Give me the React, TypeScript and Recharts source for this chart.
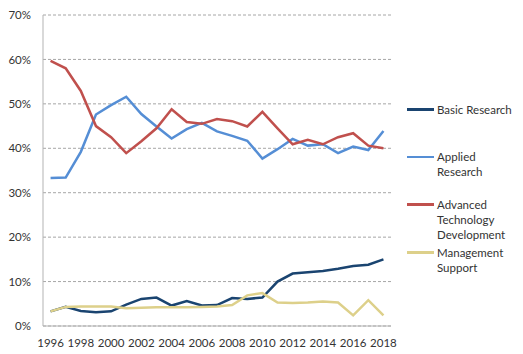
import React from "react";
import { LineChart, Line, XAxis, YAxis, CartesianGrid } from "recharts";

const years = [
  1996, 1997, 1998, 1999, 2000, 2001, 2002, 2003, 2004, 2005, 2006, 2007,
  2008, 2009, 2010, 2011, 2012, 2013, 2014, 2015, 2016, 2017, 2018,
];

const basicResearch = [
  3.3, 4.3, 3.4, 3.1, 3.3, 4.8, 6.1, 6.4, 4.6, 5.6, 4.6, 4.7, 6.3, 6.1, 6.4,
  10.0, 11.8, 12.1, 12.4, 12.9, 13.5, 13.8, 15.0,
];
const appliedResearch = [
  33.3, 33.4, 39.2, 47.6, 49.7, 51.6, 47.7, 44.9, 42.2, 44.3, 45.7, 43.8, 42.8,
  41.7, 37.7, 39.8, 42.1, 40.6, 40.9, 38.9, 40.4, 39.6, 43.9,
];
const advancedTech = [
  59.7, 58.0, 52.9, 45.0, 42.5, 38.9, 41.6, 44.5, 48.8, 45.9, 45.5, 46.6, 46.1,
  44.9, 48.2, 44.5, 40.9, 41.9, 40.9, 42.5, 43.4, 40.6, 40.0,
];
const managementSupport = [
  3.3, 4.3, 4.4, 4.4, 4.4, 4.0, 4.1, 4.2, 4.2, 4.2, 4.3, 4.4, 4.7, 6.9, 7.4,
  5.3, 5.2, 5.3, 5.5, 5.3, 2.4, 5.8, 2.4,
];

const yTicks = [0, 10, 20, 30, 40, 50, 60, 70];
const yearLabels = years.filter((y) => y % 2 === 0);
const boundaryTicks = [...years.map((y) => y - 0.5), years[years.length - 1] + 0.5];

const series = [
  { key: "basic", lines: ["Basic Research"], color: "#1A4470" },
  { key: "applied", lines: ["Applied", "Research"], color: "#558ED5" },
  { key: "advanced", lines: ["Advanced", "Technology", "Development"], color: "#C0504D" },
  { key: "mgmt", lines: ["Management", "Support"], color: "#DDD08A" },
];

const data = years.map((year, i) => ({
  year,
  basic: basicResearch[i],
  applied: appliedResearch[i],
  advanced: advancedTech[i],
  mgmt: managementSupport[i],
}));

const font = "Lato, 'Open Sans', sans-serif";
const textColor = "#333333";
const axisColor = "#B3B3B3";
const domain: [number, number] = [boundaryTicks[0], boundaryTicks[boundaryTicks.length - 1]];

export default function App() {
  return (
    <div style={{ position: "absolute", left: 0, top: 0, width: 523, height: 354, background: "#fff", fontFamily: font }}>
      <LineChart width={523} height={354} data={data} margin={{ top: 15, right: 132, bottom: 0, left: 0 }}>
        <CartesianGrid vertical={false} stroke="#A6A6A6" strokeDasharray="3 2" />
        <XAxis
          dataKey="year"
          type="number"
          domain={domain}
          ticks={boundaryTicks}
          tick={false}
          tickSize={5}
          height={5}
          stroke={axisColor}
          interval={0}
        />
        <XAxis
          xAxisId="labels"
          dataKey="year"
          type="number"
          domain={domain}
          ticks={yearLabels}
          interval={0}
          axisLine={false}
          tickLine={false}
          tickSize={0}
          tickMargin={8}
          height={23}
          tick={{ fill: textColor, fontSize: 11.5, fontFamily: font }}
        />
        <YAxis
          domain={[0, 70]}
          ticks={yTicks}
          width={43}
          tickFormatter={(v) => `${v}%`}
          tickLine={false}
          tickSize={0}
          tickMargin={12}
          stroke={axisColor}
          tick={{ fill: textColor, fontSize: 11.5, fontFamily: font }}
        />
        {series.map((s) => (
          <Line
            key={s.key}
            dataKey={s.key}
            stroke={s.color}
            strokeWidth={2.5}
            dot={false}
            isAnimationActive={false}
          />
        ))}
      </LineChart>
      <div style={{ position: "absolute", left: 407, top: 101.5 }}>
        {series.map((s) => (
          <div key={s.key} style={{ display: "flex", height: 47.7, alignItems: "flex-start" }}>
            <div style={{ width: 27, height: 2.5, background: s.color, marginTop: 6.5 }} />
            <div style={{ marginLeft: 3, fontSize: 11.5, lineHeight: "15px", color: textColor, whiteSpace: "nowrap" }}>
              {s.lines.map((l) => (
                <div key={l}>{l}</div>
              ))}
            </div>
          </div>
        ))}
      </div>
    </div>
  );
}
